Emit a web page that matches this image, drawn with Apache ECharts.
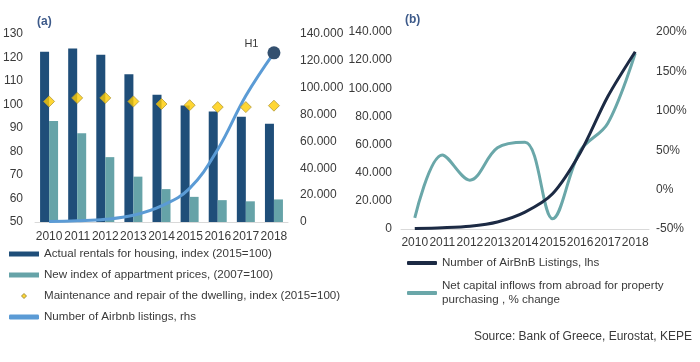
<!DOCTYPE html>
<html>
<head>
<meta charset="utf-8">
<script src="https://cdn.jsdelivr.net/npm/echarts@6/dist/echarts.min.js"></script>
<style>
html,body{margin:0;padding:0;background:#fff;}
#chart{width:700px;height:362px;}
</style>
</head>
<body>
<div id="chart"></div>
<script>
var years = ['2010','2011','2012','2013','2014','2015','2016','2017','2018'];
var actualRentals = [122.5, 123.8, 121.2, 112.9, 104.2, 99.6, 97.0, 94.8, 91.8];
var apartmentPrices = [93.0, 87.8, 77.6, 69.3, 64.0, 60.7, 59.3, 58.8, 59.6];
var maintenanceRepair = [101.3, 102.8, 102.8, 101.3, 100.2, 99.7, 98.9, 98.9, 99.5];
var airbnbListings = [300, 900, 2000, 5000, 12000, 25000, 54000, 94000, 126000];
var capitalInflows = [-36, 44, 12, 53, 60, -37, 49, 84, 173];
var leftTicksA = {min: 50, max: 130, interval: 10};
var rhsTicks = {min: 0, max: 140000, interval: 20000};
var pctTicks = {min: -50, max: 200, interval: 50};

var FONT = '"Liberation Sans", Arial, sans-serif';
var TXT = '#3a3a3a';
function thou(v){ return v === 0 ? '0' : (v/1000) + '.000'; }

var airbnbA = airbnbListings.map(function(v, i){
  if (i === airbnbListings.length - 1) {
    return {
      value: v, symbol: 'circle', symbolSize: 13,
      itemStyle: {color: '#34506f'},
      label: {show: true, formatter: 'H1', position: [-16, -2], align: 'center', verticalAlign: 'middle',
               color: TXT, fontSize: 11, fontFamily: FONT}
    };
  }
  return v;
});

var chart = echarts.init(document.getElementById('chart'));
chart.setOption({
  animation: false,
  textStyle: {fontFamily: FONT},
  grid: [
    {left: 31, right: 412, top: 34, bottom: 140},
    {left: 401, right: 51, top: 32, bottom: 133}
  ],
  xAxis: [
    {type: 'category', gridIndex: 0, data: years,
     axisLine: {lineStyle: {color: '#d9d9d9', width: 1}}, axisTick: {show: false},
     axisLabel: {color: TXT, fontSize: 12, margin: 9, interval: 0, fontFamily: FONT}},
    {type: 'category', gridIndex: 1, data: years,
     axisLine: {lineStyle: {color: '#d9d9d9', width: 1}}, axisTick: {show: false},
     axisLabel: {color: TXT, fontSize: 12, margin: 8, interval: 0, fontFamily: FONT}}
  ],
  yAxis: [
    {type: 'value', gridIndex: 0, min: leftTicksA.min, max: leftTicksA.max, interval: leftTicksA.interval,
     axisLine: {show: false}, axisTick: {show: false}, splitLine: {show: false},
     axisLabel: {color: TXT, fontSize: 12, margin: 12, fontFamily: FONT}},
    {type: 'value', gridIndex: 0, position: 'right', min: rhsTicks.min, max: rhsTicks.max, interval: rhsTicks.interval,
     axisLine: {show: false}, axisTick: {show: false}, splitLine: {show: false},
     axisLabel: {color: TXT, fontSize: 12, margin: 12, formatter: thou, fontFamily: FONT}},
    {type: 'value', gridIndex: 1, min: rhsTicks.min, max: rhsTicks.max, interval: rhsTicks.interval,
     axisLine: {show: false}, axisTick: {show: false}, splitLine: {show: false},
     axisLabel: {color: TXT, fontSize: 12, margin: 9, formatter: thou, fontFamily: FONT}},
    {type: 'value', gridIndex: 1, position: 'right', min: pctTicks.min, max: pctTicks.max, interval: pctTicks.interval,
     axisLine: {show: false}, axisTick: {show: false}, splitLine: {show: false},
     axisLabel: {color: TXT, fontSize: 12, margin: 7, formatter: '{value}%', fontFamily: FONT}}
  ],
  legend: [
    {orient: 'vertical', left: 4, top: 242, itemWidth: 30, itemHeight: 5, itemGap: 7,
     textStyle: {color: TXT, fontSize: 11.6, fontFamily: FONT, lineHeight: 14},
     data: [
       {name: 'Actual rentals for housing, index (2015=100)', icon: 'rect'},
       {name: 'New index of appartment prices, (2007=100)', icon: 'rect'},
       {name: 'Maintenance and repair of the dwelling, index (2015=100)', icon: 'path://M0,-1L1,0L0,1L-1,0Z',
        itemStyle: {color: '#ffcc00', borderColor: '#8a7a30', borderWidth: 1}},
       {name: 'Number of Airbnb listings, rhs', icon: 'roundRect'}
     ]},
    {orient: 'vertical', left: 402, top: 251, itemWidth: 30, itemHeight: 4, itemGap: 9,
     textStyle: {color: TXT, fontSize: 11.6, fontFamily: FONT, lineHeight: 14},
     formatter: function(n){ return n.replace('property purchasing', 'property\npurchasing'); },
     data: [
       {name: 'Number of AirBnB Listings, lhs', icon: 'roundRect'},
       {name: 'Net capital inflows from abroad for property purchasing , % change', icon: 'roundRect'}
     ]}
  ],
  series: [
    {name: 'Actual rentals for housing, index (2015=100)', type: 'bar', xAxisIndex: 0, yAxisIndex: 0,
     data: actualRentals, barWidth: 9, barGap: '0%', itemStyle: {color: '#1f4e79'}},
    {name: 'New index of appartment prices, (2007=100)', type: 'bar', xAxisIndex: 0, yAxisIndex: 0,
     data: apartmentPrices, barWidth: 9, barGap: '0%', itemStyle: {color: '#66a3a8'}},
    {name: 'Maintenance and repair of the dwelling, index (2015=100)', type: 'scatter', xAxisIndex: 0, yAxisIndex: 0,
     data: maintenanceRepair, symbol: 'diamond', symbolSize: 11, z: 5,
     itemStyle: {color: '#ffcc00', borderColor: '#b39a3a', borderWidth: 1}},
    {name: 'Number of Airbnb listings, rhs', type: 'line', xAxisIndex: 0, yAxisIndex: 1,
     data: airbnbA, smooth: 0.4, symbol: 'none', z: 4,
     lineStyle: {color: '#5b9bd5', width: 3}, itemStyle: {color: '#5b9bd5'}},
    {name: 'Number of AirBnB Listings, lhs', type: 'line', xAxisIndex: 1, yAxisIndex: 2,
     data: airbnbListings, smooth: 0.3, symbol: 'none', z: 4,
     lineStyle: {color: '#1c2a44', width: 3}, itemStyle: {color: '#1c2a44'}},
    {name: 'Net capital inflows from abroad for property purchasing , % change', type: 'line', xAxisIndex: 1, yAxisIndex: 3,
     data: capitalInflows, smooth: 0.35, symbol: 'none', z: 3,
     lineStyle: {color: '#6aa7a9', width: 3}, itemStyle: {color: '#6aa7a9'}}
  ],
  graphic: [
    {type: 'text', left: 37, top: 16, style: {text: '(a)', fill: '#3d5a8a', font: 'bold 12px ' + FONT}},
    {type: 'text', left: 405, top: 14, style: {text: '(b)', fill: '#3d5a8a', font: 'bold 12px ' + FONT}},
    {type: 'text', right: 8, top: 331, style: {text: 'Source: Bank of Greece, Eurostat, KEPE', fill: TXT, font: '12px ' + FONT}}
  ]
});
</script>
</body>
</html>
